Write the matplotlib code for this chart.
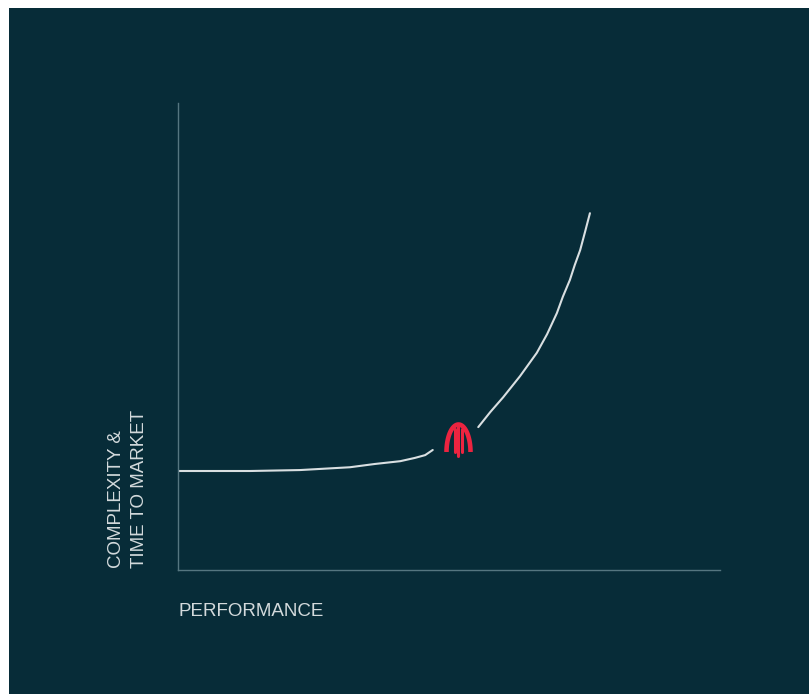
import numpy as np
import matplotlib
matplotlib.use("Agg")
import matplotlib.pyplot as plt
from matplotlib.patches import Rectangle

# Curve (x: performance 0-100, y: complexity 0-100)
low_x = [0.0, 4.1, 13.3, 22.5, 31.7, 36.3, 41.0, 43.7, 45.6, 47.0]
low_y = [21.2, 21.2, 21.2, 21.4, 22.0, 22.7, 23.3, 24.0, 24.6, 25.7]
high_x = [55.4, 57.6, 60.0, 63.1, 66.2, 68.1, 69.9, 71.0, 72.3, 73.2, 74.2, 75.1, 76.0]
high_y = [30.6, 33.8, 37.0, 41.5, 46.5, 50.5, 55.0, 58.5, 62.1, 65.3, 68.5, 72.4, 76.4]

x_label = "PERFORMANCE"
y_label = "COMPLEXITY &\nTIME TO MARKET"

BG = "#072c38"
LINE = "#d9dfe1"
SPINE = "#557680"
TEXT = "#d3dadc"
RED = "#ec2440"

W, H = 809, 694
fig = plt.figure(figsize=(W / 100, H / 100), dpi=100, facecolor=BG)

# white margin at left/top
fig.patches.append(Rectangle((0, 0), 9 / W, 1, transform=fig.transFigure,
                             facecolor="white", edgecolor="none", zorder=-10))
fig.patches.append(Rectangle((0, 1 - 8 / H), 1, 8 / H, transform=fig.transFigure,
                             facecolor="white", edgecolor="none", zorder=-10))

ax = fig.add_axes([178 / W, (H - 570) / H, (720 - 178) / W, (570 - 103) / H])
ax.set_facecolor("none")
ax.set_xlim(0, 100)
ax.set_ylim(0, 100)
for s in ["top", "right"]:
    ax.spines[s].set_visible(False)
for s in ["left", "bottom"]:
    ax.spines[s].set_color(SPINE)
    ax.spines[s].set_linewidth(1.0)
ax.set_xticks([])
ax.set_yticks([])

ax.plot(low_x, low_y, color=LINE, lw=1.5, solid_capstyle="round",
        solid_joinstyle="round")
ax.plot(high_x, high_y, color=LINE, lw=1.5, solid_capstyle="round",
        solid_joinstyle="round")

# labels
fig.text(178 / W, 1 - 612 / H, x_label, color=TEXT, fontsize=13.5,
         family=["Liberation Sans", "DejaVu Sans"], ha="left", va="center")
fig.text(128 / W, 1 - 568 / H, y_label, color=TEXT, fontsize=13.5,
         family=["Liberation Sans", "DejaVu Sans"], rotation=90,
         ha="center", va="bottom", multialignment="left", linespacing=1.5)

# logo overlay in pixel coordinates
ov = fig.add_axes([0, 0, 1, 1])
ov.set_xlim(0, W)
ov.set_ylim(H, 0)
ov.axis("off")
ov.patch.set_alpha(0)
cx, base = 458.5, 452
t = np.linspace(np.pi, 0, 80)
# outer arch
ov.plot(cx + 12.0 * np.cos(t), base - 27.5 * np.sin(t), color=RED, lw=3.3,
        solid_capstyle="butt")
# inner bars
for dx, y0, y1 in ((-3.4, 429, 452), (0, 425.5, 456), (3.4, 429, 452)):
    ov.plot([cx + dx, cx + dx], [y0, y1], color=RED, lw=2.2,
            solid_capstyle="round")

fig.savefig("out.png", dpi=100, facecolor=BG)
